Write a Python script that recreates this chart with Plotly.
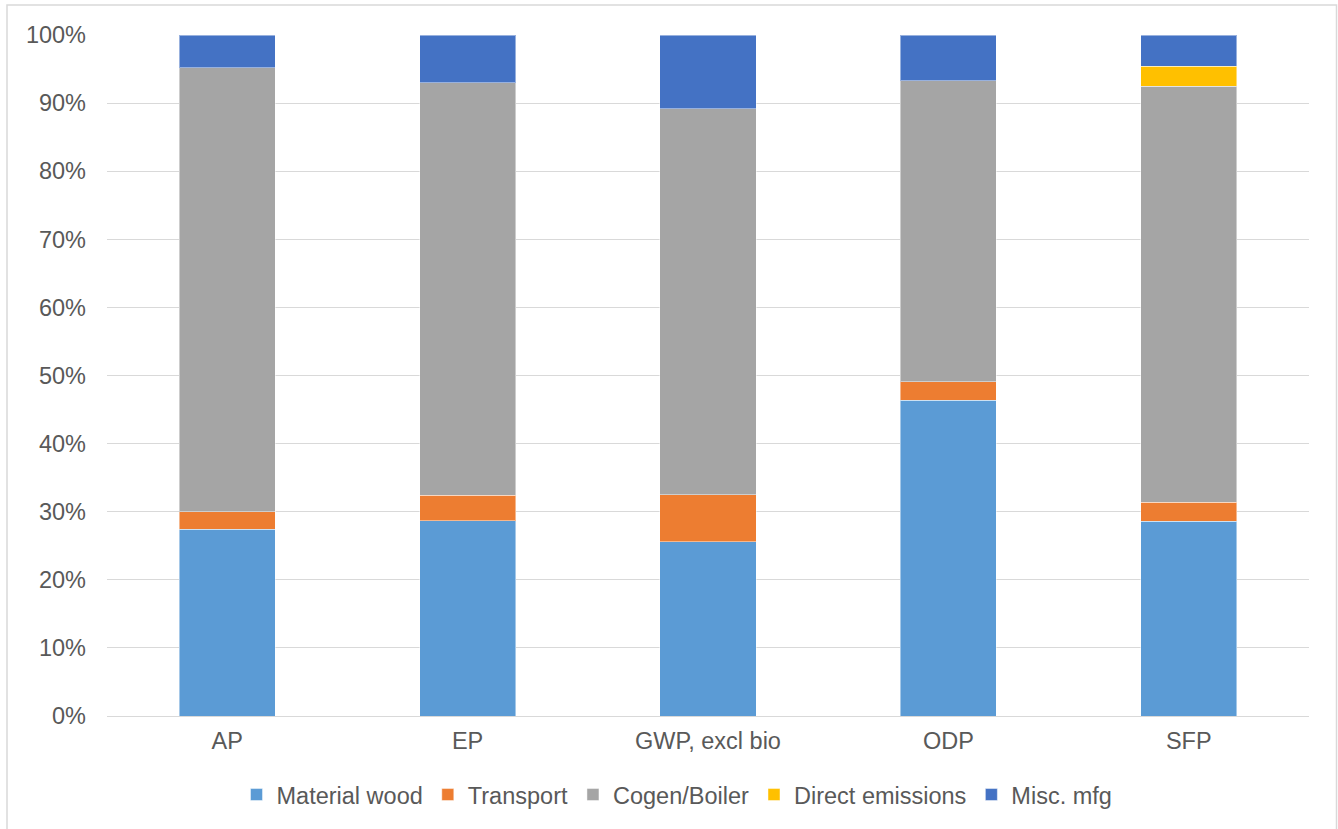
import plotly.graph_objects as go

categories = ["AP", "EP", "GWP, excl bio", "ODP", "SFP"]
material_wood = [27.4, 28.7, 25.6, 46.4, 28.6]
transport = [2.6, 3.7, 6.9, 2.7, 2.8]
cogen_boiler = [65.2, 60.6, 56.7, 44.2, 61.1]
direct_emissions = [0.0, 0.0, 0.0, 0.0, 2.9]
misc_mfg = [4.8, 7.0, 10.8, 6.7, 4.6]

series = [
    ("Material wood", material_wood, "#5B9BD5"),
    ("Transport", transport, "#ED7D31"),
    ("Cogen/Boiler", cogen_boiler, "#A5A5A5"),
    ("Direct emissions", direct_emissions, "#FFC000"),
    ("Misc. mfg", misc_mfg, "#4472C4"),
]

fig = go.Figure()
for name, vals, color in series:
    fig.add_trace(go.Bar(
        name=name, x=categories, y=[v / 100 for v in vals],
        marker=dict(color=color, line=dict(color="rgba(255,255,255,0.45)", width=1)),
    ))

W, H = 1338, 829
L, R, T, B = 107, 29, 35, 111
pw, ph = W - L - R, H - T - B
FS = 23.5

fig.update_layout(
    barmode="stack",
    bargap=0.6,
    width=W, height=H,
    margin=dict(l=L, r=R, t=T, b=B),
    plot_bgcolor="white",
    paper_bgcolor="white",
    font=dict(family="Liberation Sans, Arial, sans-serif", size=FS, color="#595959"),
    legend=dict(orientation="h", x=(677 - L) / pw, xanchor="center",
                y=-(797 - (T + ph)) / ph, yanchor="middle",
                font=dict(size=FS, color="#595959"), traceorder="normal",
                itemwidth=30, tracegroupgap=0),
    showlegend=True,
    shapes=[dict(type="rect", xref="paper", yref="paper",
                 x0=(7 - L) / pw, x1=(W - 1.5 - L) / pw,
                 y0=-(H + 5 - T - ph) / ph, y1=1 + (T - 5) / ph,
                 line=dict(color="#d9d9d9", width=1.5), fillcolor="rgba(0,0,0,0)", layer="below")],
)
fig.update_yaxes(range=[0, 1], tickvals=[i / 10 for i in range(11)], tickformat=".0%",
                 showgrid=True, gridcolor="#d9d9d9", gridwidth=1.3, zeroline=False,
                 showline=False, ticks="", ticklabelstandoff=20,
                 tickfont=dict(size=FS, color="#595959"))
fig.update_xaxes(showline=True, linecolor="#d9d9d9", linewidth=1.3, ticks="",
                 ticklabelstandoff=4,
                 tickfont=dict(size=FS, color="#595959"))

fig.write_html("out.html", config={"displayModeBar": False},
               post_script="document.body.style.margin='0px';")
